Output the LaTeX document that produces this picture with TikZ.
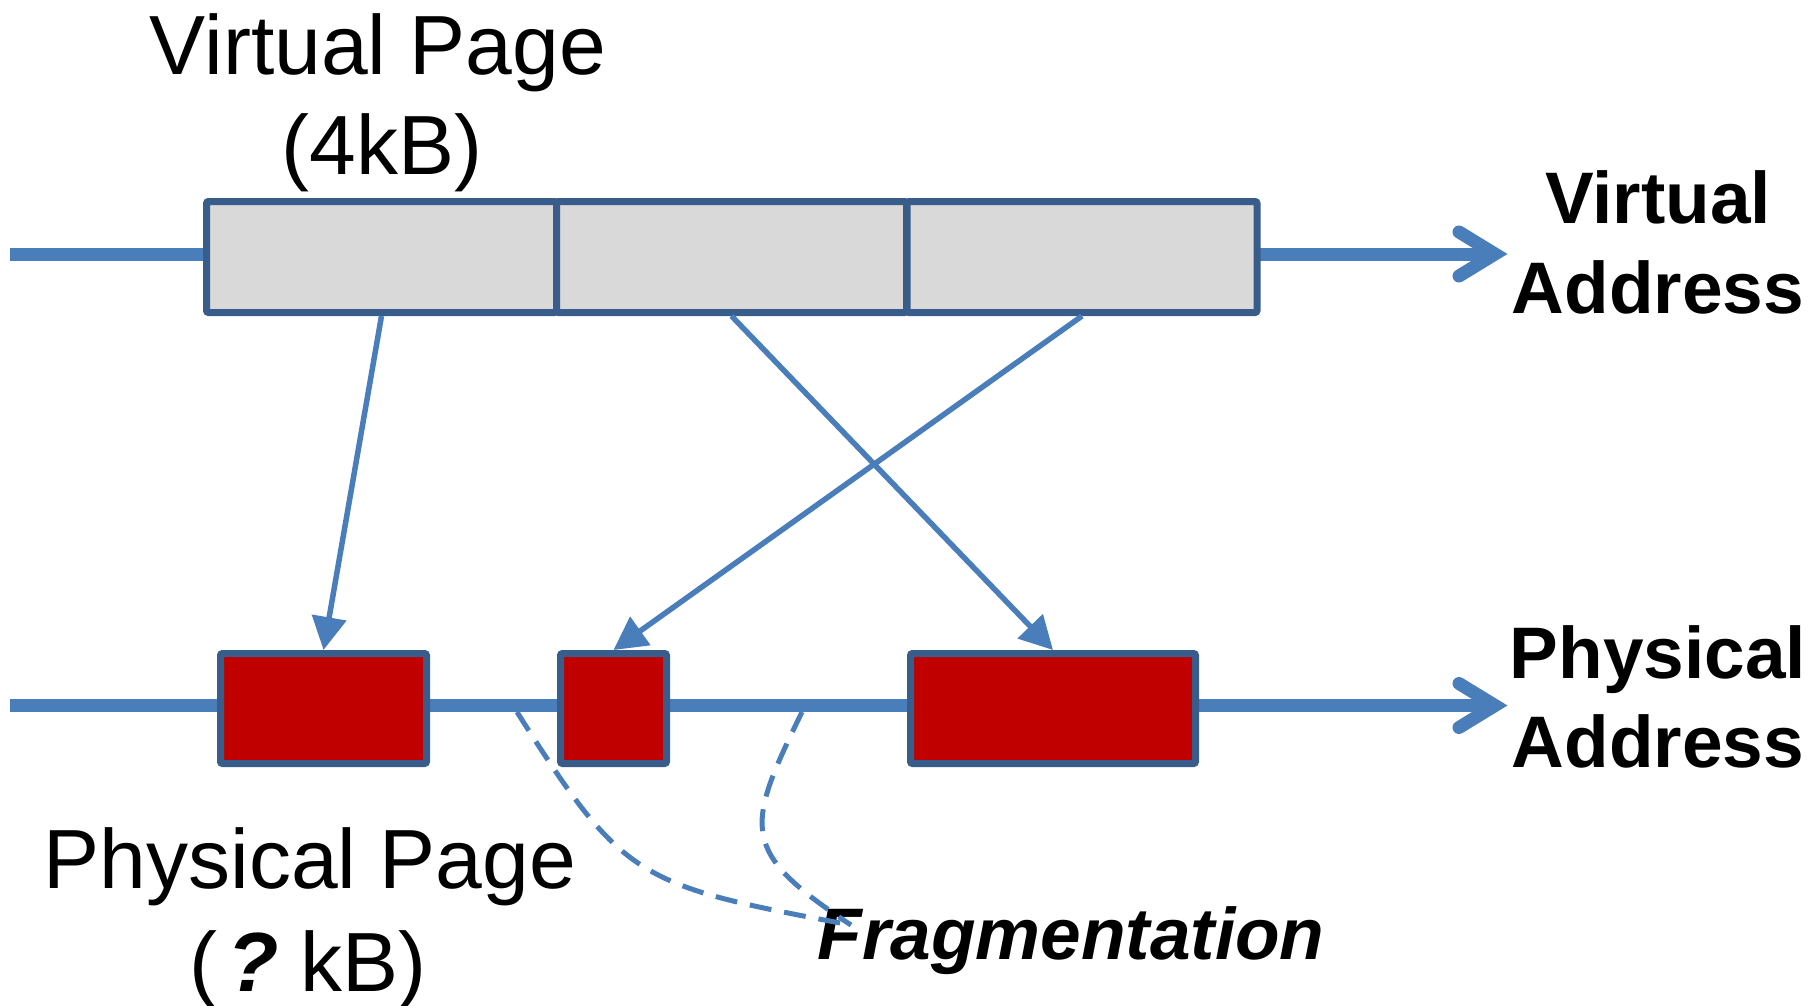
\documentclass[tikz,border=0pt]{standalone}
\usepackage{fontspec}
\setmainfont{Liberation Sans}
\usetikzlibrary{arrows.meta}

\definecolor{axisblue}{HTML}{4A7EBB}
\definecolor{boxborder}{HTML}{385D8A}
\definecolor{pagegray}{HTML}{D9D9D9}
\definecolor{pagered}{HTML}{C00000}

\begin{document}
\begin{tikzpicture}[x=1pt,y=-1pt,
  axisline/.style={draw=axisblue, line width=13pt},
  chevron/.style={draw=axisblue, line width=13pt, line cap=round, line join=miter},
  vpage/.style={draw=boxborder, fill=pagegray, line width=7pt, rounded corners=2pt, minimum height=111pt, inner sep=0pt},
  ppage/.style={draw=boxborder, fill=pagered, line width=7pt, rounded corners=2pt, minimum height=110pt, inner sep=0pt},
  conn/.style={draw=axisblue, line width=5.5pt, -{Triangle[length=33pt,width=34pt]}},
  fragline/.style={draw=axisblue, line width=5pt, dash pattern=on 22pt off 13pt},
  regtext/.style={font=\fontsize{84}{100}\selectfont, anchor=base, inner sep=0pt},
  boldtext/.style={font=\bfseries\fontsize{73}{90}\selectfont, anchor=base, inner sep=0pt},
]
\useasboundingbox (0,0) rectangle (1816,1006);

% axes
\coordinate (vstart) at (10,254);
\coordinate (vtip) at (1495,254);
\coordinate (pstart) at (10,705.5);
\coordinate (ptip) at (1495,705.5);
\draw[axisline] (vstart) -- ([xshift=-5pt]vtip);
\draw[chevron] ([shift={(-36,-22)}]vtip) -- (vtip) -- ([shift={(-36,22)}]vtip);
\draw[axisline] (pstart) -- ([xshift=-5pt]ptip);
\draw[chevron] ([shift={(-36,-22)}]ptip) -- (ptip) -- ([shift={(-36,22)}]ptip);

% virtual pages
\node[vpage, minimum width=350pt] (v1) at (381.5,257) {};
\node[vpage, minimum width=350pt] (v2) at (731.5,257) {};
\node[vpage, minimum width=350pt] (v3) at (1082,257) {};

% physical pages
\node[ppage, minimum width=206pt] (r1) at (323.5,708.5) {};
\node[ppage, minimum width=106pt] (r2) at (613.5,708.5) {};
\node[ppage, minimum width=285pt] (r3) at (1053,708.5) {};

% mappings
\draw[conn] (v1.south) -- (r1.north);
\draw[conn] (v2.south) -- (r3.north);
\draw[conn] (v3.south) -- (r2.north);

% labels
\node[regtext] (vpA) at (378,75) {Virtual Page};
\node[regtext] (vpB) at (382,175) {(4kB)};
\node[boldtext] (vaA) at (1658,223) {Virtual};
\node[boldtext] (vaB) at (1658,313) {Address};
\node[boldtext] (paA) at (1658,678) {Physical};
\node[boldtext] (paB) at (1658,767) {Address};
\node[regtext] (ppA) at (310,888) {Physical Page};
\node[regtext] (ppB) at (308,991) {(\hspace{0.12em}\textbf{\textit{?}}\hspace{0.25em}kB)};
\node[boldtext, font=\bfseries\itshape\fontsize{73}{90}\selectfont] (frag) at (1071,959) {Fragmentation};

% fragmentation pointers
\coordinate (fa) at (517,712);
\coordinate (fb) at (802,712);
\coordinate (fe) at (851,925);
\draw[fragline] (fa) .. controls (624,881) and (637,885) .. (fe);
\draw[fragline] (fb) .. controls (745,829) and (739,851) .. (fe);
\end{tikzpicture}
\end{document}
